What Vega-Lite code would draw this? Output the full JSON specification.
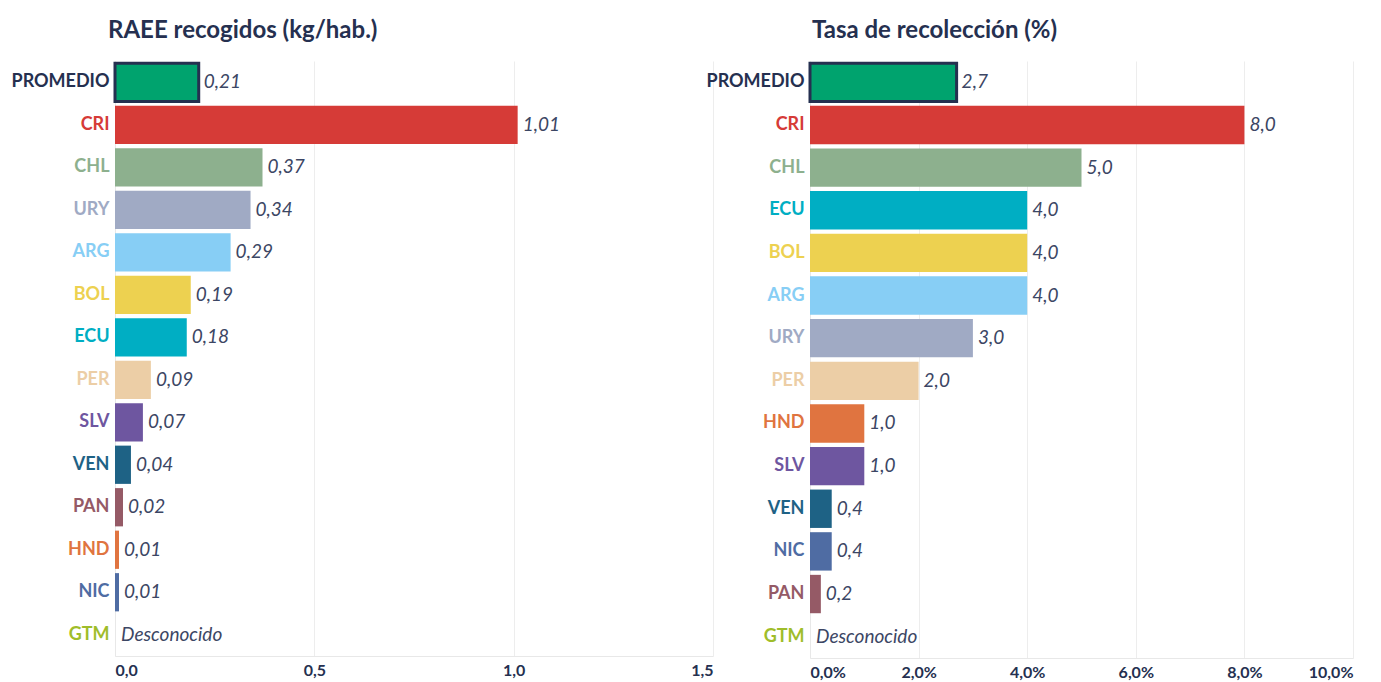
{
  "$schema": "https://vega.github.io/schema/vega-lite/v6.json",
  "background": "white",
  "padding": {"left": 10, "top": 19, "right": 5, "bottom": 5},
  "bounds": "flush",
  "spacing": 97,
  "config": {
    "view": {"stroke": null},
    "font": "Lato",
    "axis": {"domainColor": "#e8e8e8", "gridColor": "#ededed", "ticks": false, "labelFont": "Lato", "labelFontWeight": "bold"}
  },
  "datasets": {
    "kg": [
      {"pais": "PROMEDIO", "v": 0.21, "label": "0,21"},
      {"pais": "CRI", "v": 1.01, "label": "1,01"},
      {"pais": "CHL", "v": 0.37, "label": "0,37"},
      {"pais": "URY", "v": 0.34, "label": "0,34"},
      {"pais": "ARG", "v": 0.29, "label": "0,29"},
      {"pais": "BOL", "v": 0.19, "label": "0,19"},
      {"pais": "ECU", "v": 0.18, "label": "0,18"},
      {"pais": "PER", "v": 0.09, "label": "0,09"},
      {"pais": "SLV", "v": 0.07, "label": "0,07"},
      {"pais": "VEN", "v": 0.04, "label": "0,04"},
      {"pais": "PAN", "v": 0.02, "label": "0,02"},
      {"pais": "HND", "v": 0.01, "label": "0,01"},
      {"pais": "NIC", "v": 0.01, "label": "0,01"},
      {"pais": "GTM", "v": null, "label": "Desconocido"}
    ],
    "tasa": [
      {"pais": "PROMEDIO", "v": 2.7, "label": "2,7"},
      {"pais": "CRI", "v": 8.0, "label": "8,0"},
      {"pais": "CHL", "v": 5.0, "label": "5,0"},
      {"pais": "ECU", "v": 4.0, "label": "4,0"},
      {"pais": "BOL", "v": 4.0, "label": "4,0"},
      {"pais": "ARG", "v": 4.0, "label": "4,0"},
      {"pais": "URY", "v": 3.0, "label": "3,0"},
      {"pais": "PER", "v": 2.0, "label": "2,0"},
      {"pais": "HND", "v": 1.0, "label": "1,0"},
      {"pais": "SLV", "v": 1.0, "label": "1,0"},
      {"pais": "VEN", "v": 0.4, "label": "0,4"},
      {"pais": "NIC", "v": 0.4, "label": "0,4"},
      {"pais": "PAN", "v": 0.2, "label": "0,2"},
      {"pais": "GTM", "v": null, "label": "Desconocido"}
    ]
  },
  "hconcat": [
    {
      "width": 598,
      "height": 595,
      "data": {"name": "kg"},
      "title": {"text": "RAEE recogidos (kg/hab.)", "anchor": "start", "frame": "group", "font": "Lato", "fontSize": 24, "fontWeight": "bold", "color": "#253050", "offset": 18, "dx": -7},
      "encoding": {
        "y": {
          "field": "pais", "type": "nominal", "sort": null,
          "scale": {"paddingInner": 0.1, "paddingOuter": 0.05},
          "axis": {"title": null, "labelFontSize": 18, "labelPadding": 6, "domain": true,
            "labelColor": {"condition": [
              {"test": "datum.value === 'CRI'", "value": "#d63b37"},
              {"test": "datum.value === 'CHL'", "value": "#8db08e"},
              {"test": "datum.value === 'URY'", "value": "#a0aac4"},
              {"test": "datum.value === 'ARG'", "value": "#87cef5"},
              {"test": "datum.value === 'BOL'", "value": "#edd150"},
              {"test": "datum.value === 'ECU'", "value": "#00aec3"},
              {"test": "datum.value === 'PER'", "value": "#eccea6"},
              {"test": "datum.value === 'SLV'", "value": "#6e56a0"},
              {"test": "datum.value === 'VEN'", "value": "#1e6285"},
              {"test": "datum.value === 'PAN'", "value": "#955a66"},
              {"test": "datum.value === 'HND'", "value": "#e07440"},
              {"test": "datum.value === 'NIC'", "value": "#4f6ca3"},
              {"test": "datum.value === 'GTM'", "value": "#9fbd2a"}
            ], "value": "#253050"}
          }
        }
      },
      "layer": [
        {
          "mark": {"type": "bar", "strokeWidth": 3},
          "encoding": {
            "x": {"field": "v", "type": "quantitative", "scale": {"domain": [0, 1.5], "nice": false},
              "axis": {"title": null, "values": [0, 0.5, 1, 1.5], "labelFontSize": 16, "labelColor": "#253050", "labelPadding": 6, "labelExpr": "replace(format(datum.value, '.1f'), '.', ',')", "grid": true}},
            "color": {"field": "pais", "type": "nominal", "legend": null,
              "scale": {"domain": ["PROMEDIO","CRI","CHL","URY","ARG","BOL","ECU","PER","SLV","VEN","PAN","HND","NIC","GTM"],
                "range": ["#00a36e","#d63b37","#8db08e","#a0aac4","#87cef5","#edd150","#00aec3","#eccea6","#6e56a0","#1e6285","#955a66","#e07440","#4f6ca3","#9fbd2a"]}},
            "stroke": {"condition": {"test": "datum.pais === 'PROMEDIO'", "value": "#253050"}, "value": null}
          }
        },
        {
          "transform": [{"filter": "isValid(datum.v)"}],
          "mark": {"type": "text", "align": "left", "baseline": "middle", "dx": 5, "font": "Lato", "fontStyle": "italic", "fontSize": 19, "color": "#3c4664"},
          "encoding": {"x": {"field": "v", "type": "quantitative"}, "text": {"field": "label"}}
        },
        {
          "transform": [{"filter": "!isValid(datum.v)"}],
          "mark": {"type": "text", "align": "left", "baseline": "middle", "dx": 6, "font": "Lato", "fontStyle": "italic", "fontSize": 19, "color": "#3c4664"},
          "encoding": {"x": {"datum": 0, "type": "quantitative"}, "text": {"field": "label"}}
        }
      ]
    },
    {
      "width": 543,
      "height": 597,
      "data": {"name": "tasa"},
      "title": {"text": "Tasa de recolección (%)", "anchor": "start", "frame": "group", "font": "Lato", "fontSize": 24, "fontWeight": "bold", "color": "#253050", "offset": 18, "dx": 2},
      "encoding": {
        "y": {
          "field": "pais", "type": "nominal", "sort": null,
          "scale": {"paddingInner": 0.1, "paddingOuter": 0.05},
          "axis": {"title": null, "labelFontSize": 18, "labelPadding": 6, "domain": true,
            "labelColor": {"condition": [
              {"test": "datum.value === 'CRI'", "value": "#d63b37"},
              {"test": "datum.value === 'CHL'", "value": "#8db08e"},
              {"test": "datum.value === 'URY'", "value": "#a0aac4"},
              {"test": "datum.value === 'ARG'", "value": "#87cef5"},
              {"test": "datum.value === 'BOL'", "value": "#edd150"},
              {"test": "datum.value === 'ECU'", "value": "#00aec3"},
              {"test": "datum.value === 'PER'", "value": "#eccea6"},
              {"test": "datum.value === 'SLV'", "value": "#6e56a0"},
              {"test": "datum.value === 'VEN'", "value": "#1e6285"},
              {"test": "datum.value === 'PAN'", "value": "#955a66"},
              {"test": "datum.value === 'HND'", "value": "#e07440"},
              {"test": "datum.value === 'NIC'", "value": "#4f6ca3"},
              {"test": "datum.value === 'GTM'", "value": "#9fbd2a"}
            ], "value": "#253050"}
          }
        }
      },
      "layer": [
        {
          "mark": {"type": "bar", "strokeWidth": 3},
          "encoding": {
            "x": {"field": "v", "type": "quantitative", "scale": {"domain": [0, 10], "nice": false},
              "axis": {"title": null, "values": [0, 2, 4, 6, 8, 10], "labelFontSize": 16, "labelColor": "#253050", "labelPadding": 6, "labelExpr": "replace(format(datum.value, '.1f'), '.', ',') + '%'", "grid": true}},
            "color": {"field": "pais", "type": "nominal", "legend": null,
              "scale": {"domain": ["PROMEDIO","CRI","CHL","URY","ARG","BOL","ECU","PER","SLV","VEN","PAN","HND","NIC","GTM"],
                "range": ["#00a36e","#d63b37","#8db08e","#a0aac4","#87cef5","#edd150","#00aec3","#eccea6","#6e56a0","#1e6285","#955a66","#e07440","#4f6ca3","#9fbd2a"]}},
            "stroke": {"condition": {"test": "datum.pais === 'PROMEDIO'", "value": "#253050"}, "value": null}
          }
        },
        {
          "transform": [{"filter": "isValid(datum.v)"}],
          "mark": {"type": "text", "align": "left", "baseline": "middle", "dx": 5, "font": "Lato", "fontStyle": "italic", "fontSize": 19, "color": "#3c4664"},
          "encoding": {"x": {"field": "v", "type": "quantitative"}, "text": {"field": "label"}}
        },
        {
          "transform": [{"filter": "!isValid(datum.v)"}],
          "mark": {"type": "text", "align": "left", "baseline": "middle", "dx": 6, "font": "Lato", "fontStyle": "italic", "fontSize": 19, "color": "#3c4664"},
          "encoding": {"x": {"datum": 0, "type": "quantitative"}, "text": {"field": "label"}}
        }
      ]
    }
  ],
  "resolve": {"scale": {"color": "independent"}}
}
